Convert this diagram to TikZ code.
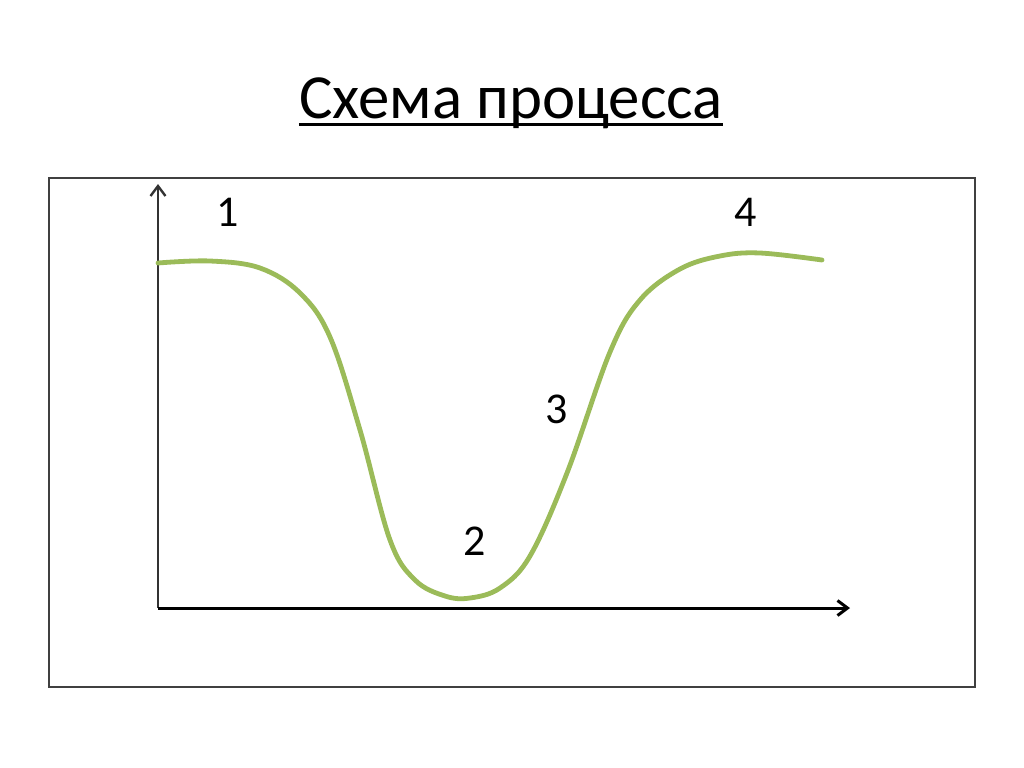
\documentclass[tikz,border=0pt]{standalone}
\usepackage{fontspec}
\setmainfont{Carlito}
\usepackage{tikz}
\usetikzlibrary{arrows.meta}
\definecolor{curvegreen}{RGB}{155,187,89}

\begin{document}
\begin{tikzpicture}[x=0.5pt, y=-0.5pt]
            \def\axx{158}
            \def\axy{608}
            \def\tip{Straight Barb[length=5pt, width=7.5pt]}
            \tikzset{
                frameline/.style={draw=black!75, line width=0.75pt},
                axisline/.style={line width=1.5pt, -{\tip}},
                numlabel/.style={inner sep=0pt, font=\fontsize{22}{24}\selectfont},
                proc/.style={curvegreen, line width=2.4pt, line cap=round}
            }
            \useasboundingbox (0,0) rectangle (1024,767);
            % title
            \node[inner sep=0pt, anchor=base, font=\fontsize{31.4}{34}\selectfont] (title) at (511,118) {Схема процесса};
            \draw[line width=1.4pt] ([yshift=-3.2pt]title.base west) -- ([yshift=-3.2pt]title.base east);
            % frame and axes
            \draw[frameline] (49,178) rectangle (975,687);
            \coordinate (O) at (\axx,\axy);
            \coordinate (ytop) at (\axx,184);
            \coordinate (xend) at (850,\axy);
            \draw[axisline, black!80, line width=1.2pt] (O) -- (ytop);
            \draw[axisline] (O) -- (xend);
            % curve
            \draw[proc] plot[smooth, tension=0.6] coordinates {
                (158,263) (210,261) (260,268) (300,293) (330,337)
                (360,430) (390,540) (415,580) (445,596) (470,598)
                (500,588) (530,556) (567,473) (610,352) (640,300)
                (680,269) (720,256) (760,253) (822,260)};
            % labels
            \node[numlabel] (p1) at (228,212) {1};
            \node[numlabel] (p2) at (475,541) {2};
            \node[numlabel] (p3) at (557,409) {3};
            \node[numlabel] (p4) at (746,212) {4};
        \end{tikzpicture}
\end{document}
